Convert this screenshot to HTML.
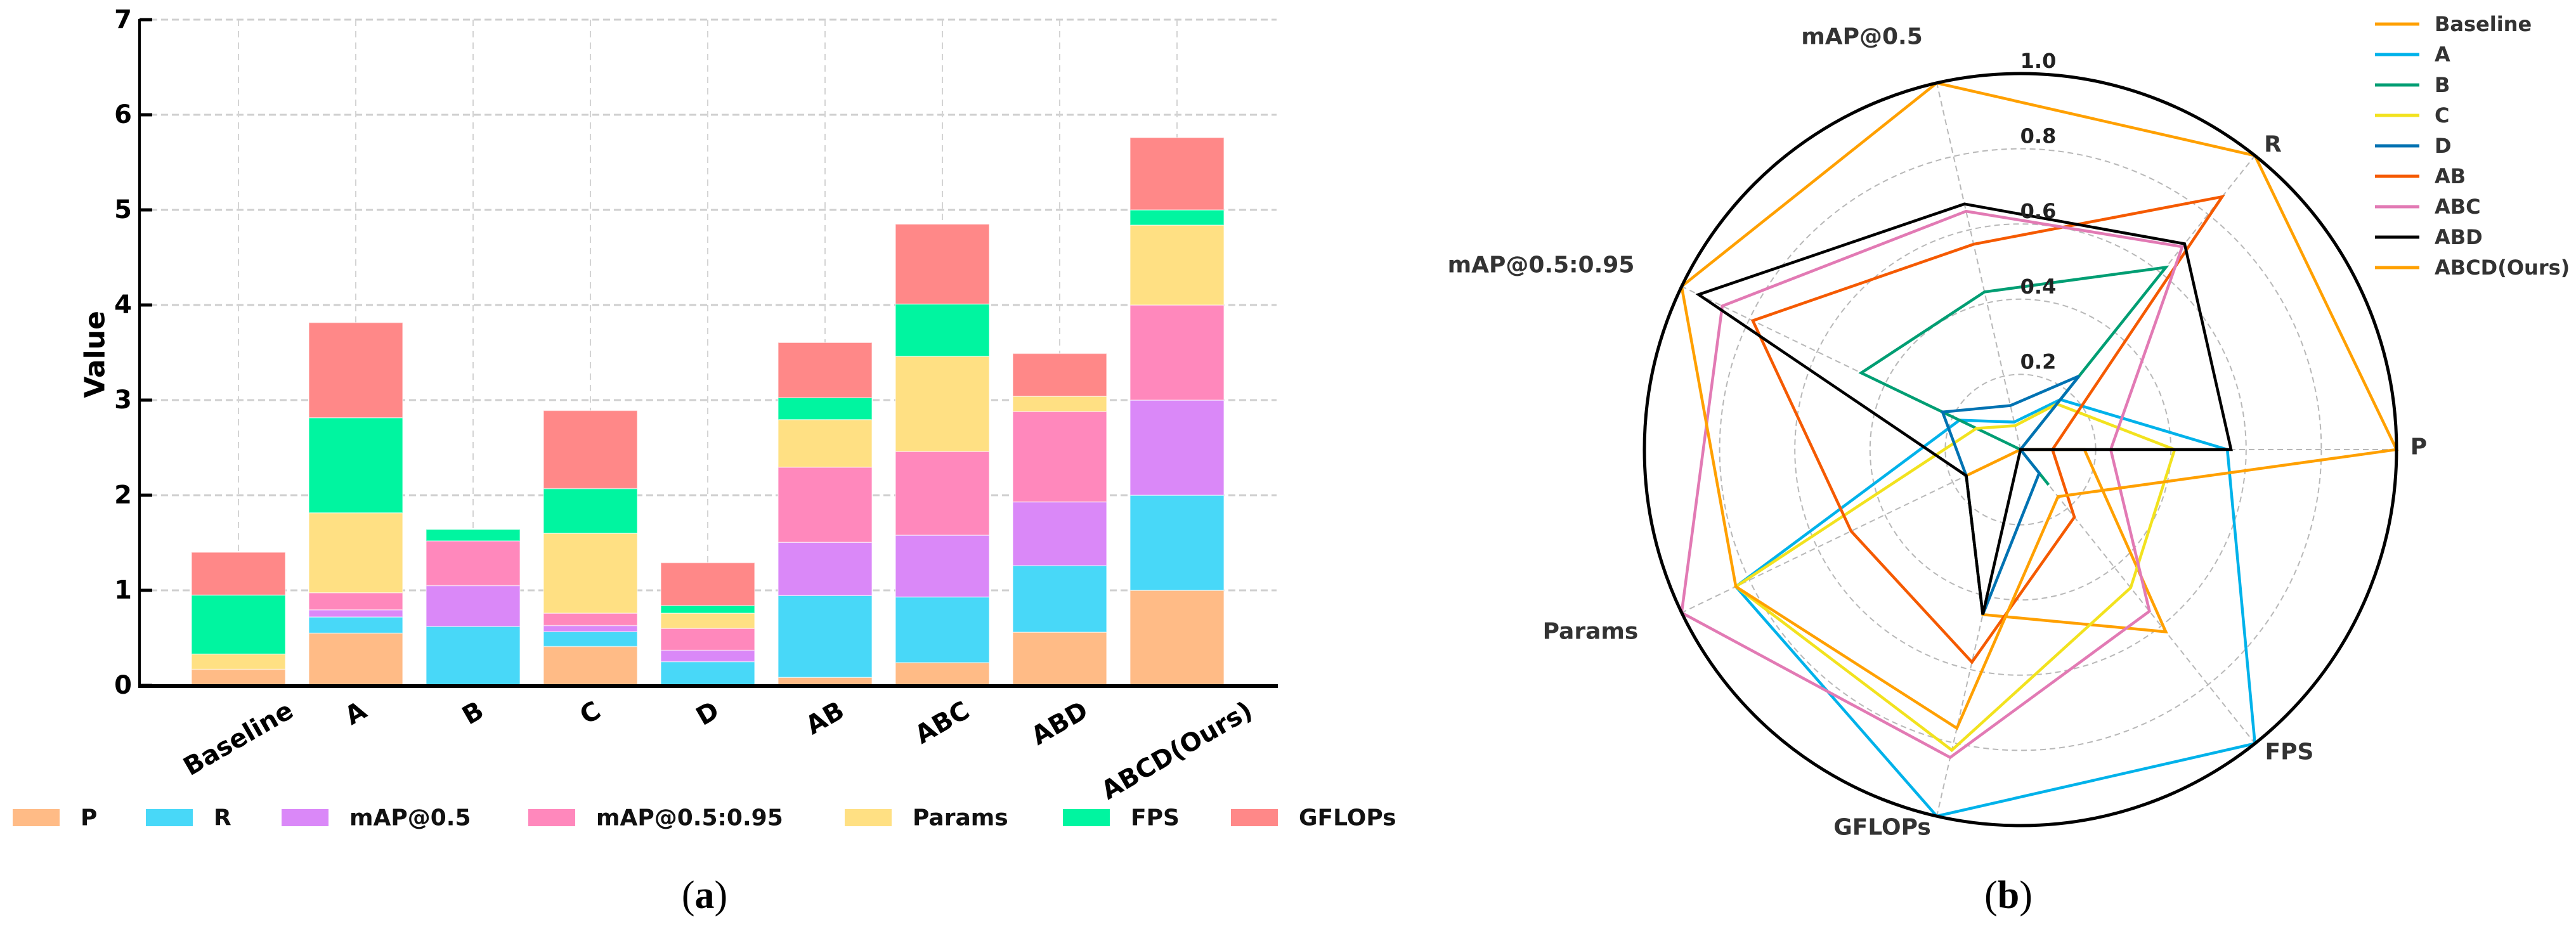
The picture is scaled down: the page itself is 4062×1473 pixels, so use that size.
<!DOCTYPE html>
<html><head><meta charset="utf-8">
<style>
html,body{margin:0;padding:0;background:#fff;}
svg{display:block;font-family:"DejaVu Sans","Liberation Sans",sans-serif;}
</style></head>
<body>
<svg id="fig" width="4062" height="1473" viewBox="0 0 4062 1473" xmlns="http://www.w3.org/2000/svg">
  <g id="barChart"></g>
  <g id="radarChart"></g>
  <text x="1111" y="1432" text-anchor="middle" font-family="Liberation Serif, serif" font-size="62">(<tspan font-weight="bold">a</tspan>)</text>
  <text x="3167" y="1432" text-anchor="middle" font-family="Liberation Serif, serif" font-size="62">(<tspan font-weight="bold">b</tspan>)</text>
</svg>
<script>
// ===== data =====
const categories = ["Baseline","A","B","C","D","AB","ABC","ABD","ABCD(Ours)"];
const metricNames = ["P","R","mAP@0.5","mAP@0.5:0.95","Params","FPS","GFLOPs"];
const valP       = [0.17,0.55,0,   0.41, 0,   0.085,0.24,0.56,1];
const valR       = [0,   0.17,0.62,0.155,0.25,0.86, 0.69,0.70,1];
const valMAP50   = [0,   0.075,0.43,0.065,0.12,0.56,0.65,0.67,1];
const valMAP5095 = [0,   0.18,0.47,0.13, 0.23,0.79, 0.88,0.95,1];
const valParams  = [0.16,0.84,0,   0.84, 0.16,0.50, 1,   0.16,0.84];
const valFPS     = [0.62,1,   0.12,0.47, 0.08,0.23, 0.55,0,   0.16];
const valGFLOPs  = [0.45,1,   0,   0.82, 0.45,0.58, 0.84,0.45,0.76];
const yTicks = [0,1,2,3,4,5,6,7];
const radarAxes = ["P","R","mAP@0.5","mAP@0.5:0.95","Params","GFLOPs","FPS"];
const radarTicks = [0.2,0.4,0.6,0.8,1.0];

const NS = "http://www.w3.org/2000/svg";
function mk(tag, attrs, parent){
  const e = document.createElementNS(NS, tag);
  for (const k in attrs) e.setAttribute(k, attrs[k]);
  parent.appendChild(e); return e;
}

// ===== bar chart =====
const bar = document.getElementById('barChart');
const X0 = 220, X1 = 2013, Y0 = 1081, PXU = 150, STEP = 185, BW = 148;
const xPos = i => 376 + i*STEP;
const yPos = v => Y0 - v*PXU;
const barSeries = [valP,valR,valMAP50,valMAP5095,valParams,valFPS,valGFLOPs];
const barColors = ["#FFBB86","#48D8F8","#DA88F8","#FF88BC","#FFE083","#00F5A0","#FF8888"];

// grid
yTicks.forEach(t=>{
  if (t===0) return;
  const g = mk('line',{x1:X0,x2:X1,y1:yPos(t),y2:yPos(t),stroke:"#cfcfcf","stroke-width":3,"stroke-dasharray":"11 6"},bar);
  
  
});
categories.forEach((c,i)=>{
  const g = mk('line',{x1:xPos(i),x2:xPos(i),y1:yPos(7),y2:Y0,stroke:"#d4d4d4","stroke-width":2,"stroke-dasharray":"10 8"},bar);
  
  
});
// bars
categories.forEach((c,i)=>{
  let base = 0;
  barSeries.forEach((s,k)=>{
    const v = s[i];
    if (v>0){
      const r = mk('rect',{x:xPos(i)-BW/2,y:yPos(base+v),width:BW,height:v*PXU,fill:barColors[k],stroke:"#ffffff","stroke-opacity":0.5,"stroke-width":1.5},bar);
      
      
    }
    base += v;
  });
});
// axes
const ya = mk('line',{x1:X0,x2:X0,y1:yPos(7)-1,y2:Y0+3,stroke:"#000","stroke-width":4},bar);


const xa = mk('line',{x1:X0-2,x2:2015,y1:Y0+1,y2:Y0+1,stroke:"#000","stroke-width":6},bar);


yTicks.forEach(t=>{
  const tk = mk('line',{x1:X0,x2:X0+20,y1:yPos(t),y2:yPos(t),stroke:"#000","stroke-width":5},bar);
  
  
  const tl = mk('text',{x:X0-12,y:yPos(t),"text-anchor":"end","dominant-baseline":"central","font-size":40,"font-weight":"bold",fill:"#000"},bar);
  tl.textContent = t;
  
  
});
const yl = mk('text',{x:0,y:0,transform:"translate(150,559) rotate(-90)","text-anchor":"middle","dominant-baseline":"central","font-size":44,"font-weight":"bold"},bar);
yl.textContent = "Value";


categories.forEach((c,i)=>{
  const t = mk('text',{x:0,y:0,"text-anchor":"middle","dominant-baseline":"central","font-size":40,"font-weight":"bold"},bar);
  t.textContent = c;
  
  
  const L = t.getComputedTextLength();
  const H = L*0.5 + 40*0.866;
  t.setAttribute('transform','translate('+xPos(i)+','+(1100+H/2)+') rotate(-30)');
});
// legend
const legPatchX = [20,230,444,833,1332,1676,1941];
metricNames.forEach((m,k)=>{
  const g = mk('g',{},bar);
  
  
  mk('rect',{x:legPatchX[k],y:1276,width:74,height:27,fill:barColors[k]},g);
  const t = mk('text',{x:legPatchX[k]+107,y:1290,"dominant-baseline":"central","font-size":36,"font-weight":"bold",fill:"#111"},g);
  t.textContent = m;
});

// ===== radar chart =====
const rad = document.getElementById('radarChart');
const CX = 3186, CY = 709, RR = 593;
const radarSeriesNames = ["Baseline","A","B","C","D","AB","ABC","ABD","ABCD(Ours)"];
const radarColors = ["#FFA000","#00B2EA","#009E73","#F2E21E","#0072B2","#F55A00","#E27AB4","#000000","#FFA000"];
const axisVals = [valP,valR,valMAP50,valMAP5095,valParams,valGFLOPs,valFPS];
const ang = k => k*2*Math.PI/7;
const pt = (k,r) => [CX + r*RR*Math.cos(ang(k)), CY - r*RR*Math.sin(ang(k))];

radarTicks.forEach(t=>{
  if (t<1){
    const c = mk('circle',{cx:CX,cy:CY,r:t*RR,fill:"none",stroke:"#b8b8b8","stroke-width":2,"stroke-dasharray":"9 6"},rad);
    
    
  }
});
radarAxes.forEach((a,k)=>{
  const p = pt(k,1);
  const l = mk('line',{x1:CX,y1:CY,x2:p[0],y2:p[1],stroke:"#b8b8b8","stroke-width":2,"stroke-dasharray":"9 6"},rad);
  
  
});
radarSeriesNames.forEach((n,s)=>{
  const pts = radarAxes.map((a,k)=>pt(k,axisVals[k][s]).map(v=>v.toFixed(1)).join(','));
  const pg = mk('polygon',{points:pts.join(' '),fill:"none",stroke:radarColors[s],"stroke-width":4.5,"stroke-linejoin":"miter"},rad);
  
  
});
const oc = mk('circle',{cx:CX,cy:CY,r:RR,fill:"none",stroke:"#000","stroke-width":5},rad);


radarTicks.forEach(t=>{
  const tl = mk('text',{x:3214,y:CY-t*RR-20,"text-anchor":"middle","dominant-baseline":"central","font-size":32,"font-weight":"bold",fill:"#222"},rad);
  tl.textContent = t.toFixed(1);
  
  
});
const axLabelPos = [[3814,705],[3584,228],[2936,58],[2430,418],[2508,996],[2968,1305],[3610,1186]];
radarAxes.forEach((a,k)=>{
  const t = mk('text',{x:axLabelPos[k][0],y:axLabelPos[k][1],"text-anchor":"middle","dominant-baseline":"central","font-size":36,"font-weight":"bold",fill:"#333"},rad);
  t.textContent = a;
  
  
});
radarSeriesNames.forEach((n,s)=>{
  const y = 38 + s*48;
  const g = mk('g',{},rad);
  
  
  mk('line',{x1:3745,x2:3815,y1:y,y2:y,stroke:radarColors[s],"stroke-width":5},g);
  const t = mk('text',{x:3839,y:y,"dominant-baseline":"central","font-size":32,"font-weight":"bold",fill:"#333"},g);
  t.textContent = n;
});
</script>
</body></html>
